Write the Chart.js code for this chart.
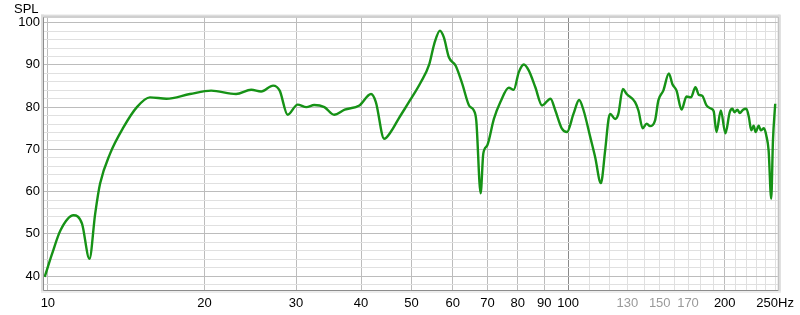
<!DOCTYPE html>
<html lang="en">
<head>
    <meta charset="UTF-8">
    <title>SPL</title>
    <style>
        html, body { margin: 0; padding: 0; background: #fff; overflow: hidden; }
        canvas { display: block; }
    </style>
</head>
<body>
    <canvas id="splChart" width="800" height="315"></canvas>

    <script src="https://cdn.jsdelivr.net/npm/chart.js"></script>
    <script>
        const freqHz = [9.86, 10.19, 10.57, 11.2, 11.63, 12.02, 12.33, 12.6, 13.17, 13.97, 14.83, 15.71, 16.9, 18.75, 20.6,
            23.0, 24.6, 25.7, 27.1, 27.9, 28.9, 30.2, 31.4, 32.5, 34.0, 35.5, 37.2, 39.7, 41.8, 42.7, 44.3, 45.6, 47.3,
            49.9, 52.1, 54.1, 55.3, 56.7, 57.7, 59.0, 60.8, 62.6, 64.5, 65.9, 66.6, 67.9, 68.7, 69.9, 72.0, 74.1, 76.9,
            78.6, 80.4, 82.2, 84.0, 86.5, 89.1, 92.5, 94.5, 97.3, 99.5, 102.4, 105.0, 107.1, 110.3, 112.7, 115.6, 117.8,
            119.6, 120.5, 123.1, 124.9, 127.4, 129.6, 134.5, 136.5, 139.1, 141.6, 143.7, 146.9, 149.1, 152.4, 156.2,
            158.6, 161.6, 165.2, 168.9, 172.2, 175.7, 178.4, 181.0, 184.5, 188.6, 190.5, 192.8, 196.6, 200.6, 204.5,
            206.9, 208.8, 211.5, 213.8, 216.9, 220.1, 222.6, 224.9, 227.3, 229.3, 232.5, 234.6, 237.9, 240.4, 242.9,
            245.7, 247.6, 250.1];
        const splDb = [39.8, 45.3, 50.8, 54.4, 52.4, 44.1, 54.8, 61.9, 69.0, 75.2, 80.0, 82.3, 82.0, 83.1, 83.9,
            83.1, 84.1, 83.7, 85.1, 83.9, 78.2, 80.6, 80.0, 80.5, 80.0, 78.2, 79.4, 80.4, 83.1, 81.2, 72.5, 74.1, 77.4,
            82.0, 85.9, 90.2, 95.0, 98.1, 96.5, 91.8, 89.8, 85.5, 80.4, 79.2, 76.8, 59.6, 69.0, 70.9, 77.2, 81.2, 84.6,
            84.1, 88.3, 90.1, 88.7, 84.7, 80.4, 82.0, 79.2, 74.9, 74.1, 78.4, 81.7, 79.2, 72.9, 68.2, 62.0, 69.7,
            77.2, 78.4, 77.2, 78.4, 84.3, 83.1, 81.2, 79.2, 75.0, 76.1, 75.5, 76.8, 81.6, 83.9, 88.0,
            85.5, 83.9, 79.4, 82.5, 82.3, 84.7, 82.9, 82.7, 80.4, 79.6, 79.0, 74.1, 79.2, 73.8, 78.8,
            79.6, 78.8, 79.4, 78.6, 79.4, 79.6, 77.6, 74.5, 75.6, 74.1, 75.6, 74.5, 75.0, 73.3, 69.7,
            58.3, 72.1, 80.8];

        // Graduations
        const xGridHz = [10, 20, 30, 40, 50, 60, 70, 80, 90, 100, 110, 120, 130, 140, 150, 160, 170, 180, 190,
            200, 210, 220, 230, 240, 250];
        const xLabels = { 10: '10', 20: '20', 30: '30', 40: '40', 50: '50', 60: '60', 70: '70', 80: '80', 90: '90',
            100: '100', 130: '130', 150: '150', 170: '170', 200: '200', 250: '250Hz' };
        const xGreyLabels = [130, 150, 170];
        const yGridDb = [38, 40, 42, 44, 46, 48, 50, 52, 54, 56, 58, 60, 62, 64, 66, 68, 70, 72, 74, 76, 78, 80,
            82, 84, 86, 88, 90, 92, 94, 96, 98, 100];
        const yLabels = [40, 50, 60, 70, 80, 90, 100];

        // Cadre en relief autour de la zone de tracé
        const framePlugin = {
            id: 'frame',
            beforeDatasetsDraw(chart) {
                const { ctx, chartArea: a } = chart;
                ctx.save();
                ctx.fillStyle = '#dcdcdc';
                ctx.fillRect(a.left - 3, a.top - 3, a.right - a.left + 5, 3);
                ctx.fillRect(a.left - 3, a.top - 3, 3, a.bottom - a.top + 5);
                ctx.fillRect(a.right, a.top - 3, 3, a.bottom - a.top + 5);
                ctx.fillStyle = '#ececec';
                ctx.fillRect(a.left - 3, a.bottom + 1, a.right - a.left + 6, 2);
                ctx.lineWidth = 1;
                ctx.strokeStyle = '#8c8c8c';
                ctx.beginPath();
                ctx.moveTo(a.left - 0.5, a.top - 0.5);
                ctx.lineTo(a.left - 0.5, a.bottom + 0.5);
                ctx.lineTo(a.right + 0.5, a.bottom + 0.5);
                ctx.stroke();
                ctx.strokeStyle = '#bdbdbd';
                ctx.beginPath();
                ctx.moveTo(a.left - 0.5, a.top - 0.5);
                ctx.lineTo(a.right + 0.5, a.top - 0.5);
                ctx.lineTo(a.right + 0.5, a.bottom + 0.5);
                ctx.stroke();
                ctx.restore();
            }
        };

        function xGridColor(v) {
            if (v === 100) return '#8a8a8a';
            if (v < 100 || v === 200) return '#bcbcbc';
            return '#e0e0e0';
        }

        const ctx = document.getElementById('splChart').getContext('2d');
        new Chart(ctx, {
            type: 'line',
            data: {
                datasets: [{
                    label: 'SPL',
                    data: freqHz.map((f, i) => ({ x: f, y: splDb[i] })),
                    borderColor: '#169216',
                    borderWidth: 2.4,
                    pointRadius: 0,
                    fill: false,
                    cubicInterpolationMode: 'monotone'
                }]
            },
            options: {
                responsive: false,
                animation: false,
                devicePixelRatio: 1,
                layout: { padding: { left: 14, right: 20, top: 0, bottom: 0 }, autoPadding: false },
                font: { family: '"Liberation Sans", Arial, sans-serif', size: 13 },
                plugins: {
                    legend: { display: false },
                    tooltip: { enabled: false },
                    title: {
                        display: true,
                        text: 'SPL',
                        align: 'start',
                        color: '#000',
                        font: { family: '"Liberation Sans", Arial, sans-serif', size: 13, weight: 'normal' },
                        padding: { top: 2, bottom: 0 }
                    }
                },
                scales: {
                    x: {
                        type: 'logarithmic',
                        min: 9.83,
                        max: 253,
                        border: { display: false },
                        afterBuildTicks: s => { s.ticks = xGridHz.map(v => ({ value: v })); },
                        afterFit: s => { s.height = 25; },
                        grid: {
                            drawTicks: false,
                            color: c => xGridColor(c.tick.value),
                            lineWidth: 1
                        },
                        ticks: {
                            autoSkip: false,
                            maxRotation: 0,
                            padding: 6,
                            color: c => xGreyLabels.includes(c.tick.value) ? '#9a9a9a' : '#000',
                            font: { family: '"Liberation Sans", Arial, sans-serif', size: 13 },
                            callback: v => xLabels[v] || ''
                        }
                    },
                    y: {
                        type: 'linear',
                        min: 36.7,
                        max: 101.2,
                        border: { display: false },
                        afterBuildTicks: s => { s.ticks = yGridDb.map(v => ({ value: v })); },
                        afterFit: s => { s.width = 30; },
                        grid: {
                            drawTicks: false,
                            color: c => c.tick.value % 10 === 0 ? '#bcbcbc' : '#e0e0e0',
                            lineWidth: 1
                        },
                        ticks: {
                            autoSkip: false,
                            padding: 4,
                            color: '#000',
                            font: { family: '"Liberation Sans", Arial, sans-serif', size: 13 },
                            callback: v => yLabels.includes(v) ? String(v) : ''
                        }
                    }
                }
            },
            plugins: [framePlugin]
        });
    </script>
</body>
</html>
